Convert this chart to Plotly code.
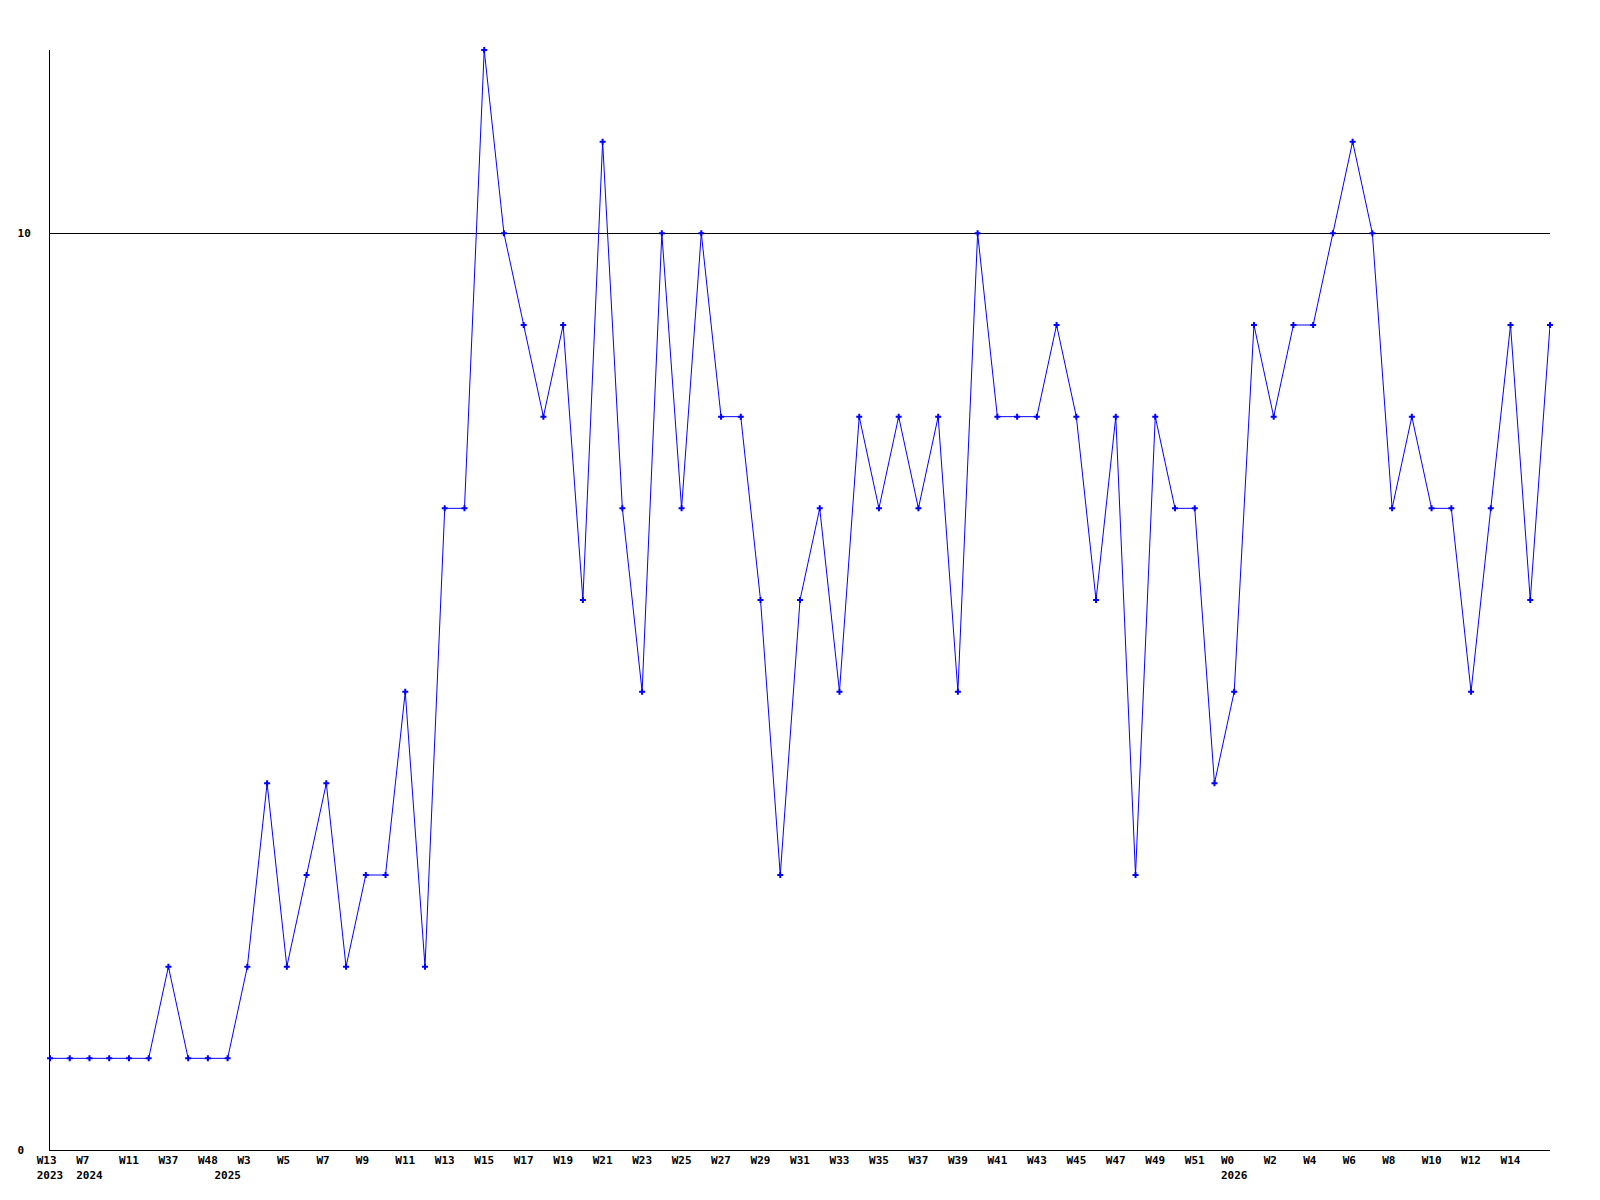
import plotly.graph_objects as go

# Week label of each point (only every second one is shown on the axis)
weeks = [
    "W13", "W40", "W7", "W9", "W11", "W20", "W37", "W42", "W48", "W1",
    "W3", "W4", "W5", "W6", "W7", "W8", "W9", "W10", "W11", "W12",
    "W13", "W14", "W15", "W16", "W17", "W18", "W19", "W20", "W21", "W22",
    "W23", "W24", "W25", "W26", "W27", "W28", "W29", "W30", "W31", "W32",
    "W33", "W34", "W35", "W36", "W37", "W38", "W39", "W40", "W41", "W42",
    "W43", "W44", "W45", "W46", "W47", "W48", "W49", "W50", "W51", "W52",
    "W0", "W1", "W2", "W3", "W4", "W5", "W6", "W7", "W8", "W9",
    "W10", "W11", "W12", "W13", "W14", "W15", "W16",
]

# Year of each point
years = (
    ["2023"] * 2 + ["2024"] * 7 + ["2025"] * 51 + ["2026"] * 17
)

# Weekly values
values = [
    1, 1, 1, 1, 1, 1, 2, 1, 1, 1,
    2, 4, 2, 3, 4, 2, 3, 3, 5, 2,
    7, 7, 12, 10, 9, 8, 9, 6, 11, 7,
    5, 10, 7, 10, 8, 8, 6, 3, 6, 7,
    5, 8, 7, 8, 7, 8, 5, 10, 8, 8,
    8, 9, 8, 6, 8, 3, 8, 7, 7, 4,
    5, 9, 8, 9, 9, 10, 11, 10, 7, 8,
    7, 7, 5, 7, 9, 6, 9,
]

y_tick_vals = [0, 10]
y_tick_labels = ["0", "10"]

NB = "\u00a0"


def pad_lines(lines):
    # left-align lines within a centred tick label using monospace padding
    w = max(3, max(len(s) for s in lines))
    return "<br>".join("<b>" + s + NB * (w - len(s)) + "</b>" for s in lines)


x = list(range(len(values)))
last = len(values) - 1
tick_vals, tick_text = [], []
for i in x:
    show_week = i % 2 == 0 and i != last
    new_year = i == 0 or years[i] != years[i - 1]
    if not (show_week or new_year):
        continue
    lines = [weeks[i] if show_week else ""]
    if new_year:
        lines.append(years[i])
    tick_vals.append(i)
    tick_text.append(pad_lines(lines))

fig = go.Figure()
fig.add_trace(go.Scatter(
    x=x, y=values, mode="lines+markers",
    line=dict(color="#0000FF", width=1),
    marker=dict(color="#0000FF", size=5, symbol="cross"),
    cliponaxis=False, showlegend=False, hoverinfo="y",
))

font = dict(family="DejaVu Sans Mono", size=11, color="black")
yw = max(len(s) for s in y_tick_labels)

fig.update_layout(
    width=1600, height=1200,
    margin=dict(l=42, r=58, t=42, b=58, autoexpand=False),
    paper_bgcolor="white", plot_bgcolor="white",
    font=font,
    xaxis=dict(
        range=[0, last],
        tickmode="array", tickvals=tick_vals, ticktext=tick_text,
        showgrid=False, zeroline=False,
        showline=True, linecolor="black", linewidth=1,
        ticks="", tickangle=0, tickfont=font, automargin=False,
    ),
    yaxis=dict(
        range=[0, 12],
        tickmode="array", tickvals=y_tick_vals,
        ticktext=["<b>" + s + NB * (yw - len(s)) + "</b>" for s in y_tick_labels],
        showgrid=True, gridcolor="black", gridwidth=1,
        zeroline=False,
        showline=True, linecolor="black", linewidth=1,
        ticks="", ticklabelstandoff=16, tickfont=font, automargin=False,
    ),
)

fig.write_html("out.html")
